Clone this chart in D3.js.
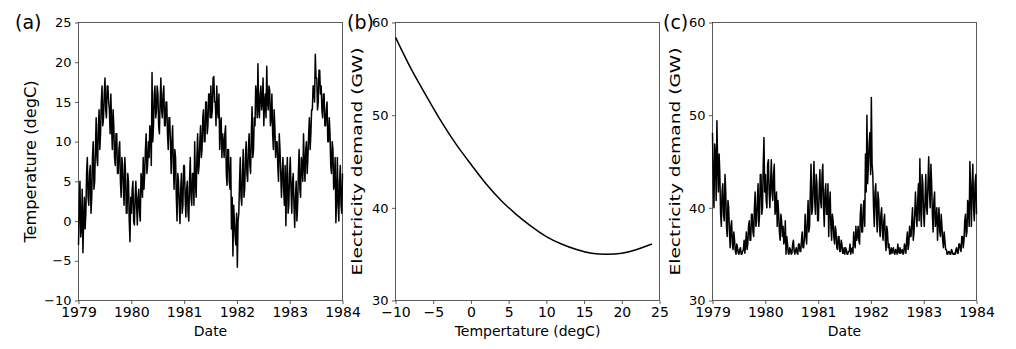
<!DOCTYPE html>
<html><head><meta charset="utf-8">
<script src="https://cdn.jsdelivr.net/npm/d3@7"></script>
<style>
body{margin:0;background:#fff}
text{font-family:"DejaVu Sans",sans-serif}
</style></head>
<body><svg id="chart" width="1016" height="349"></svg>
<script>
// ---- data (6 readings per month, Jan 1979 .. Dec 1983) ----
const temp1979=[-3,2,5,-2,-1,4, -4,0,3,-1,1,6, 8,3,2,6,7,1, 3,8,10,4,5,9, 13,8,7,12,14,9, 11,15,17,12,13,16,
                18,14,13,17,17,15, 14,11,16,12,9,14, 12,8,7,11,11,6, 6,9,10,5,3,8, 7,4,2,8,6,1, 1,6,5,0,-2.6,3];
const temp1980=[1,4,5,0,-0.5,3, 5,2,-0.5,3,4,1, 0,6,5,3,8,4, 6,9,11,6,7,10, 8,12,11,7,18.7,10, 12,16,17,13,14,17,
                16,12,11,15,18,14, 13,16,17,12,12,15, 15,11,9,13,13,10, 6,10,12,7,4,9, 8,3,0,6,5,2, -0.3,4,6,1,2,7];
const temp1981=[7,3,0.5,4,5,1, 0,5,8,3,2,6, 6,2,10,5,3,8, 11,6,7,10,12,8, 9,13,14,10,10,15, 15,11,12,16,16,13,
                17,13,14,18,18.2,15, 15,12,17,14,13,16, 9,12,13,8,11,10, 8,11,12,6,4.5,9, 9,5,4,8,-1,3, -4.4,2,0,-2,-3,1];
const temp1982=[-5.8,0,1,5,8,3, 2,6,9,3,4,8, 10,6,5,9,11,7, 6,11,14.4,8,9,13, 12,17,16,13,19.8,14, 13,16,17,14,15,18,
                12,15,16,13,19.5,15, 14,17,16.5,12,13,16, 11,9,14,12,8,10, 10,7,5,11,9,6, 3,6,8,4,2,7, -0.6,5,8,1,2,6];
const temp1983=[8,4,1,5,6,2, -0.8,3,5,0,2,6, 9,4,3,8,7,5, 11,7,5,9,10,6, 8,11,13,9,11,14, 14,17,17,15,21,18,
                18,14,15,19,19,16, 17,14,13,16,16,12, 12,14,15,10,10,13, 11,7,6,10,9,4, 5,8,-0.2,3,8,2, 0,5,7,2,1,6];

const demand1979=[48.1,42.6,40.0,46.9,45.8,40.8, 49.4,44.7,41.7,45.8,43.6,39.3, 38.0,41.7,42.6,39.3,38.6,43.6, 41.7,38.0,36.9,40.8,40.0,37.4, 35.7,38.0,38.6,36.1,35.5,37.4, 36.5,35.3,35.0,36.1,35.7,35.1,
                  35.0,35.5,35.7,35.0,35.0,35.3, 35.5,36.5,35.1,36.1,37.4,35.5, 36.1,38.0,38.6,36.5,36.5,39.3, 39.3,37.4,36.9,40.0,41.7,38.0, 38.6,40.8,42.6,38.0,39.3,43.6, 43.6,39.3,40.0,44.7,47.6,41.7];
const demand1980=[43.6,40.8,40.0,44.7,45.2,41.7, 40.0,42.6,45.2,41.7,40.8,43.6, 44.7,39.3,40.0,41.7,38.0,40.8, 39.3,37.4,36.5,39.3,38.6,36.9, 38.0,36.1,36.5,38.6,35.0,36.9, 36.1,35.1,35.0,35.7,35.5,35.0,
                  35.1,36.1,36.5,35.3,35.0,35.5, 35.7,35.1,35.0,36.1,36.1,35.3, 35.3,36.5,37.4,35.7,35.7,36.9, 39.3,36.9,36.1,38.6,40.8,37.4, 38.0,41.7,44.7,39.3,40.0,42.6, 45.0,40.8,39.3,43.6,42.6,38.6];
const demand1981=[38.6,41.7,44.1,40.8,40.0,43.6, 44.7,40.0,38.0,41.7,42.6,39.3, 39.3,42.6,36.9,40.0,41.7,38.0, 36.5,39.3,38.6,36.9,36.1,38.0, 37.4,35.7,35.5,36.9,36.9,35.3, 35.3,36.5,36.1,35.1,35.1,35.7,
                  35.0,35.7,35.5,35.0,35.0,35.3, 35.3,36.1,35.0,35.5,35.7,35.1, 37.4,36.1,35.7,38.0,36.5,36.9, 38.0,36.5,36.1,39.3,40.4,37.4, 37.4,40.0,40.8,38.0,45.8,41.7, 50.0,42.6,44.7,46.9,48.1,43.6];
const demand1982=[51.9,44.7,43.6,40.0,38.0,41.7, 42.6,39.3,37.4,41.7,40.8,38.0, 36.9,39.3,40.0,37.4,36.5,38.6, 39.3,36.5,35.4,38.0,37.4,35.7, 36.1,35.0,35.1,35.7,35.1,35.5, 35.7,35.1,35.0,35.5,35.3,35.0,
                  36.1,35.3,35.1,35.7,35.1,35.3, 35.5,35.0,35.1,36.1,35.7,35.1, 36.5,37.4,35.5,36.1,38.0,36.9, 36.9,38.6,40.0,36.5,37.4,39.3, 41.7,39.3,38.0,40.8,42.6,38.6, 45.3,40.0,38.0,43.6,42.6,39.3];
const demand1983=[38.0,40.8,43.6,40.0,39.3,42.6, 45.5,41.7,40.0,44.7,42.6,39.3, 37.4,40.8,41.7,38.0,38.6,40.0, 36.5,38.6,40.0,37.4,36.9,39.3, 38.0,36.5,35.7,37.4,36.5,35.5, 35.5,35.0,35.0,35.3,35.3,35.0,
                  35.0,35.5,35.3,35.0,35.0,35.1, 35.0,35.5,35.7,35.1,35.1,36.1, 36.1,35.5,35.3,36.9,36.9,35.7, 36.5,38.6,39.3,36.9,37.4,40.8, 40.0,38.0,45.0,41.7,38.0,42.6, 44.7,40.0,38.6,42.6,43.6,39.3];

const curveTemp=[-10,-8,-6,-4,-2,0,2,4,6,8,10,12,14,16,18,20,22,24];
const curveDemand=[58.4,55.1,52.2,49.4,46.9,44.7,42.6,40.8,39.3,38.0,36.9,36.1,35.5,35.1,35.0,35.1,35.5,36.1];

const yearTicks=[1979,1980,1981,1982,1983,1984];
const tempTicks=[-10,-5,0,5,10,15,20,25];
const demandTicks=[30,40,50,60];
const curveTempTicks=[-10,-5,0,5,10,15,20,25];
const panelLabels=["(a)","(b)","(c)"];

// ---- build series ----
const temperature=[].concat(temp1979,temp1980,temp1981,temp1982,temp1983);
const demand=[].concat(demand1979,demand1980,demand1981,demand1982,demand1983);
const t0=Date.UTC(1979,0,1), t1=Date.UTC(1984,0,1);
const n=temperature.length;
const dates=d3.range(n).map(i=>new Date(t0+i*(t1-t0)/(n-1)));

const svg=d3.select("#chart");
const plotTop=22.5,plotBottom=300.5;
const panels=[
  {l:78.5,r:342.5},{l:395.5,r:659.5},{l:712.5,r:976.5}
];

function frame(p,xAxis,yAxis,xlabel,ylabel,ylab){
  const g=svg.append("g");
  const gx=g.append("g").attr("transform",`translate(0,${plotBottom})`).call(xAxis);
  const gy=g.append("g").attr("transform",`translate(${p.l},0)`).call(yAxis);
  [gx,gy].forEach(a=>{
    a.select(".domain").remove();
    a.selectAll(".tick line").attr("stroke","#333").attr("stroke-width",0.8);
    a.selectAll(".tick text").attr("fill","#000").attr("font-family","DejaVu Sans");
  });
  gx.selectAll(".tick text").attr("font-size",14);
  gy.selectAll(".tick text").attr("font-size",13);
  g.append("rect").attr("x",p.l).attr("y",plotTop).attr("width",p.r-p.l).attr("height",plotBottom-plotTop)
    .attr("fill","none").attr("stroke","#333").attr("stroke-width",0.8);
  g.append("text").attr("x",(p.l+p.r)/2).attr("y",336).attr("text-anchor","middle")
    .attr("font-size",14).text(xlabel);
  g.append("text").attr("transform",`translate(${ylab.x},${(plotTop+plotBottom)/2}) rotate(-90) scale(${ylab.s},1)`)
    .attr("text-anchor","middle").attr("font-size",ylab.fs).text(ylabel);
  return g;
}

// Panel (a)
{
  const p=panels[0];
  const x=d3.scaleUtc().domain([new Date(t0),new Date(t1)]).range([p.l,p.r]);
  const y=d3.scaleLinear().domain([-10,25]).range([plotBottom,plotTop]);
  const xa=d3.axisBottom(x).tickValues(yearTicks.map(v=>new Date(Date.UTC(v,0,1)))).tickFormat(d3.utcFormat("%Y")).tickSize(3.5).tickPadding(3.5);
  const ya=d3.axisLeft(y).tickValues(tempTicks).tickSize(3.5).tickPadding(3.5);
  const g=frame(p,xa,ya,"Date","Temperature (degC)",{x:36,fs:15,s:1.08});
  g.append("path").datum(temperature).attr("fill","none").attr("stroke","#000").attr("stroke-width",1.5)
    .attr("stroke-linejoin","round")
    .attr("d",d3.line().x((d,i)=>x(dates[i])).y(d=>y(d)));
}
// Panel (b)
{
  const p=panels[1];
  const x=d3.scaleLinear().domain([-10,25]).range([p.l,p.r]);
  const y=d3.scaleLinear().domain([30,60]).range([plotBottom,plotTop]);
  const xa=d3.axisBottom(x).tickValues(curveTempTicks).tickSize(3.5).tickPadding(3.5);
  const ya=d3.axisLeft(y).tickValues(demandTicks).tickSize(3.5).tickPadding(3.5);
  const g=frame(p,xa,ya,"Tempertature (degC)","Electricity demand (GW)",{x:362,fs:14,s:1.33});
  g.append("path").datum(curveTemp).attr("fill","none").attr("stroke","#000").attr("stroke-width",1.5)
    .attr("d",d3.line().curve(d3.curveNatural).x(d=>x(d)).y((d,i)=>y(curveDemand[i])));
}
// Panel (c)
{
  const p=panels[2];
  const x=d3.scaleUtc().domain([new Date(t0),new Date(t1)]).range([p.l,p.r]);
  const y=d3.scaleLinear().domain([30,60]).range([plotBottom,plotTop]);
  const xa=d3.axisBottom(x).tickValues(yearTicks.map(v=>new Date(Date.UTC(v,0,1)))).tickFormat(d3.utcFormat("%Y")).tickSize(3.5).tickPadding(3.5);
  const ya=d3.axisLeft(y).tickValues(demandTicks).tickSize(3.5).tickPadding(3.5);
  const g=frame(p,xa,ya,"Date","Electricity demand (GW)",{x:680,fs:14,s:1.33});
  g.append("path").datum(demand).attr("fill","none").attr("stroke","#000").attr("stroke-width",1.5)
    .attr("stroke-linejoin","round")
    .attr("d",d3.line().x((d,i)=>x(dates[i])).y(d=>y(d)));
}
// Panel letters
const letterPos=[[15,29],[347,29],[663,29]];
panelLabels.forEach((t,i)=>{
  svg.append("text").attr("x",letterPos[i][0]).attr("y",letterPos[i][1])
    .attr("font-family","Lato, 'Open Sans', sans-serif").attr("font-size",19).attr("fill","#000").text(t);
});
</script></body></html>
